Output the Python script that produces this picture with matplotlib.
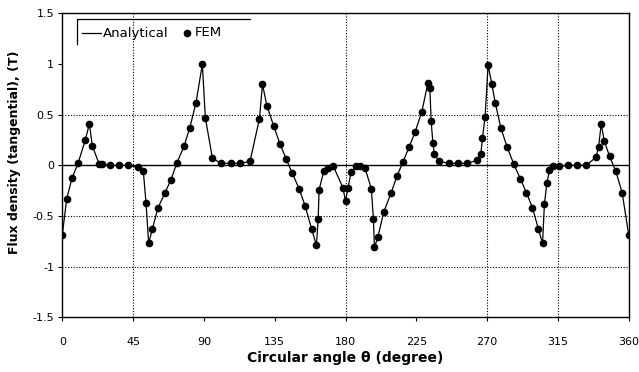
import matplotlib
matplotlib.use("Agg")
import matplotlib.pyplot as plt
from matplotlib.lines import Line2D

# values (angle in degree, flux density in T)
angle = [0, 2.8, 6.2, 10, 14.6, 17.2, 19.1, 23.5, 25.5, 30.3, 36, 42,
         47.9, 51.5, 53.2, 54.9, 57.2, 60.8, 65.3, 69.1, 72.7, 77.4, 81,
         85, 89, 90.9, 95.4, 100.9, 107.2, 113.2, 119.3, 125.3, 127.2,
         130, 134.4, 138.4, 142.2, 146.2, 150.5, 154.3, 158.5, 161.5,
         162.6, 163.2, 166.2, 168.7, 172.3, 178.3, 180, 181.6, 183.5,
         186.5, 189, 192.4, 196.4, 197.7, 198.4, 200.5, 204.3, 209,
         212.6, 216.4, 220.4, 224.2, 228.5, 232.3, 233.6, 234.4, 235.5,
         236.5, 239.5, 245.8, 251.6, 257.5, 263.4, 266, 267, 268.7,
         270.6, 273, 275.1, 278.7, 282.7, 287, 291, 295, 298.8, 302.6,
         305.2, 306.4, 308, 309.6, 312, 315.6, 321.3, 327.2, 333, 339.1,
         340.8, 342.5, 344.4, 347.8, 351.8, 355.8, 360]
flux = [-0.687, -0.33, -0.125, 0.02, 0.25, 0.41, 0.19, 0.01, 0.01, 0.0,
        0.0, 0.0, -0.02, -0.06, -0.37, -0.77, -0.63, -0.42, -0.27, -0.14,
        0.02, 0.19, 0.37, 0.62, 1.0, 0.47, 0.07, 0.02, 0.02, 0.02, 0.04,
        0.46, 0.80, 0.59, 0.385, 0.21, 0.066, -0.08, -0.23, -0.40, -0.63,
        -0.79, -0.53, -0.24, -0.056, -0.03, -0.01, -0.22, -0.35, -0.22,
        -0.07, -0.01, -0.01, -0.03, -0.23, -0.53, -0.81, -0.71, -0.46,
        -0.27, -0.11, 0.03, 0.18, 0.33, 0.53, 0.81, 0.76, 0.44, 0.22,
        0.11, 0.04, 0.02, 0.02, 0.02, 0.05, 0.11, 0.27, 0.48, 0.99, 0.80,
        0.62, 0.37, 0.18, 0.01, -0.13, -0.27, -0.42, -0.63, -0.77, -0.38,
        -0.17, -0.05, -0.01, -0.01, 0.0, 0.0, 0.0, 0.08, 0.18, 0.41, 0.24,
        0.09, -0.06, -0.27, -0.69]

xticks = [0, 45, 90, 135, 180, 225, 270, 315, 360]
yticks = [-1.5, -1, -0.5, 0, 0.5, 1, 1.5]
ytick_labels = ["-1.5", "-1", "-0.5", "0", "0.5", "1", "1.5"]

W, H = 639, 372
plt.rcParams['font.family'] = ['DejaVu Sans']

fig = plt.figure(figsize=(W / 100, H / 100), dpi=100)
ax = fig.add_axes([0.0975, 0.147, 0.8865, 0.817])

# partial dotted grid like the original
for gx in [45, 180, 270, 315]:
    ax.axvline(gx, color='black', lw=0.8, ls=(0, (1, 1.5)), zorder=1)
for gy in [0.5, -0.5, -1]:
    ax.axhline(gy, color='black', lw=0.8, ls=(0, (1, 1.5)), zorder=1)
ax.axhline(0, color='black', lw=1.0, zorder=1)

ax.plot(angle, flux, color='black', lw=0.9, zorder=2)
ax.plot(angle, flux, ls='none', marker='o', ms=4.5, color='black', zorder=3)

ax.set_xlim(0, 360)
ax.set_ylim(-1.5, 1.5)
ax.set_xticks(xticks)
ax.set_yticks(yticks)
ax.set_yticklabels(ytick_labels)
ax.tick_params(direction='out', length=3, width=0.8, labelsize=8,
               colors='black')
ax.tick_params(axis='x', pad=11)
ax.tick_params(axis='y', pad=3)
for sp in ax.spines.values():
    sp.set_linewidth(1.0)

ax.set_xlabel('Circular angle θ (degree)', fontsize=10, fontweight='bold',
              labelpad=3)
ax.set_ylabel('Flux density (tangential), (T)', fontsize=9,
              fontweight='bold')
ax.yaxis.set_label_coords(-0.073, 0.542)

# hand drawn legend, frame has only top and left edges
ly = 1 - 33 / H
fig.add_artist(Line2D([77 / W, 77 / W, 250 / W],
                      [1 - 44 / H, 1 - 19 / H, 1 - 19 / H],
                      color='black', lw=0.9))
fig.add_artist(Line2D([82 / W, 101 / W], [ly, ly], color='black', lw=0.9))
fig.text(103 / W, ly, 'Analytical', fontsize=9.5, va='center', ha='left')
fig.add_artist(Line2D([187 / W], [ly], ls='none', marker='o', ms=4.5,
                      color='black'))
fig.text(195 / W, ly, 'FEM', fontsize=9.5, va='center', ha='left')

fig.savefig('out.png', dpi=100)
